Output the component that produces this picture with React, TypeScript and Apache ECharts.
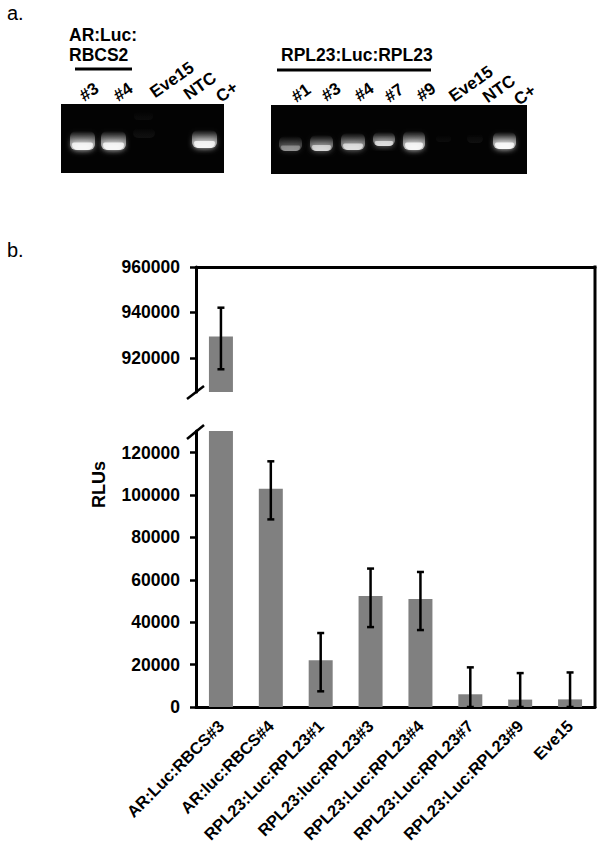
import React, { useEffect, useRef } from "react";
import * as echarts from "echarts";

const categories = ["AR:Luc:RBCS#3","AR:luc:RBCS#4","RPL23:Luc:RPL23#1","RPL23:luc:RPL23#3","RPL23:Luc:RPL23#4","RPL23:Luc:RPL23#7","RPL23:Luc:RPL23#9","Eve15"];
const rluValues = [929400, 103000, 22000, 52400, 50900, 6000, 3500, 3600];
const errorLow = [915000, 88500, 7400, 37700, 36300, 0, 0, 0];
const errorHigh = [942100, 115900, 34900, 65300, 63700, 18700, 16000, 16300];
const upperTicks = [920000, 940000, 960000];
const lowerTicks = [0, 20000, 40000, 60000, 80000, 100000, 120000];

const FONT = "'Liberation Sans', Arial, sans-serif";

function errorItem(params: any, api: any) {
  const x = api.value(0);
  const pLow = api.coord([x, api.value(1)]);
  const pHigh = api.coord([x, api.value(2)]);
  const style = { stroke: "#000", lineWidth: 2.5, fill: "none" };
  return {
    type: "group",
    children: [
      { type: "line", shape: { x1: pLow[0], y1: pLow[1], x2: pHigh[0], y2: pHigh[1] }, style },
      { type: "line", shape: { x1: pHigh[0] - 3.5, y1: pHigh[1], x2: pHigh[0] + 3.5, y2: pHigh[1] }, style },
      { type: "line", shape: { x1: pLow[0] - 3.5, y1: pLow[1], x2: pLow[0] + 3.5, y2: pLow[1] }, style },
    ],
  };
}

function label(text: string, x: number, y: number, rotation = 0, size = 17) {
  return {
    type: "text", x, y, rotation: (rotation * Math.PI) / 180, z: 10,
    style: { text, fill: "#000", font: `bold ${size}px ${FONT}`, align: "center", verticalAlign: "middle" },
  };
}

function rule(x1: number, x2: number, y: number) {
  return { type: "line", z: 10, shape: { x1, y1: y, x2, y2: y }, style: { stroke: "#000", lineWidth: 3 } };
}

function slash(x1: number, y1: number, x2: number, y2: number) {
  return { type: "line", z: 10, shape: { x1, y1, x2, y2 }, style: { stroke: "#000", lineWidth: 2.5 } };
}

// one glowing gel band: soft body fading upward plus a bright lower lobe
function band(x0: number, x1: number, y0: number, y1: number, level: number) {
  const w = x1 - x0;
  const cy = (y0 + y1) / 2;
  const grey = Math.round(255 * Math.min(1, 0.35 + level));
  const rgba = (a: number) => `rgba(${grey},${grey},${grey},${a})`;
  const items: any[] = [
    {
      type: "rect", z: 2,
      shape: { x: x0 + 1, y: y0 - 2, width: w - 2, height: y1 - y0, r: 6 },
      style: {
        fill: {
          type: "linear", x: 0, y: 0, x2: 0, y2: 1,
          colorStops: [
            { offset: 0, color: rgba(0) },
            { offset: 0.5, color: rgba(0.45 * level) },
            { offset: 1, color: rgba(0.75 * level) },
          ],
        },
        shadowBlur: 5, shadowColor: rgba(0.4 * level),
      },
    },
  ];
  if (level > 0.3) {
    items.push({
      type: "rect", z: 3,
      shape: { x: x0 + 3, y: cy, width: w - 6, height: y1 - cy - 2, r: [2, 2, 6, 6] },
      style: { fill: rgba(0.8 * level), shadowBlur: 6, shadowColor: rgba(0.95 * level) },
    });
  }
  return items;
}

const gel = (x: number, y: number, width: number, height: number) => ({
  type: "rect", z: 1, shape: { x, y, width, height }, style: { fill: "#030303" },
});

const graphicElements: any[] = [
  { type: "text", x: 7, y: 13, z: 10, style: { text: "a.", fill: "#000", font: `20px ${FONT}`, align: "left", verticalAlign: "middle" } },
  { type: "text", x: 7, y: 250, z: 10, style: { text: "b.", fill: "#000", font: `20px ${FONT}`, align: "left", verticalAlign: "middle" } },

  { type: "text", x: 69, y: 35, z: 10, style: { text: "AR:Luc:", fill: "#000", font: `bold 17.5px ${FONT}`, align: "left", verticalAlign: "middle" } },
  { type: "text", x: 69, y: 55, z: 10, style: { text: "RBCS2", fill: "#000", font: `bold 17.5px ${FONT}`, align: "left", verticalAlign: "middle" } },
  rule(75, 132, 69),
  label("#3", 89, 92, 35), label("#4", 123, 92, 35), label("Eve15", 172, 80, 35),
  label("NTC", 200, 86, 35), label("C+", 227, 92, 35),
  gel(61, 104, 163, 69),
  ...band(69, 96, 133, 152, 0.95), ...band(100, 127, 133, 152, 0.95), ...band(191, 218, 132, 150, 0.95),
  ...band(133, 154, 114, 122, 0.1), ...band(132, 156, 130, 140, 0.14),

  { type: "text", x: 281, y: 55, z: 10, style: { text: "RPL23:Luc:RPL23", fill: "#000", font: `bold 17.5px ${FONT}`, align: "left", verticalAlign: "middle" } },
  rule(277, 431, 70),
  label("#1", 301, 93, 35), label("#3", 331, 92, 35), label("#4", 364, 92, 35), label("#7", 394, 93, 35),
  label("#9", 426, 92, 35), label("Eve15", 471, 84, 35), label("NTC", 499, 89, 35), label("C+", 525, 95, 35),
  gel(271, 105, 256, 69),
  ...band(278, 303, 138, 153, 0.5), ...band(309, 334, 137, 153, 0.7), ...band(340, 366, 135, 152, 0.75),
  ...band(372, 396, 134, 148, 0.75), ...band(402, 426, 133, 152, 0.95), ...band(492, 517, 134, 151, 1),
  ...band(435, 452, 137, 144, 0.1), ...band(466, 484, 136, 145, 0.14),

  { type: "text", x: 99, y: 484.5, rotation: Math.PI / 2, z: 10, style: { text: "RLUs", fill: "#000", font: `bold 18px ${FONT}`, align: "center", verticalAlign: "middle" } },
  { type: "line", z: 10, shape: { x1: 595, y1: 265.5, x2: 595, y2: 708 }, style: { stroke: "#000", lineWidth: 3 } },
  slash(187, 399, 204, 386),
  slash(187, 439, 204, 425),
];

const yAxisCommon = {
  type: "value",
  splitLine: { show: false },
  axisLine: { show: true, lineStyle: { color: "#000", width: 3 } },
};

const tickStyle = (values: number[]) => ({
  axisTick: { show: true, length: 6, customValues: values, lineStyle: { color: "#000", width: 2.5 } },
  axisLabel: {
    customValues: values, margin: 16, color: "#000", fontFamily: FONT, fontWeight: "bold", fontSize: 17.5,
    formatter: (v: number) => String(v),
  },
});

const xAxisCommon = {
  type: "category",
  data: categories,
  axisLine: { show: true, onZero: false, lineStyle: { color: "#000", width: 3 } },
  axisTick: { show: false },
};

const errorData = categories.map((_, i) => [i, errorLow[i], errorHigh[i]]);

export default function App() {
  const ref = useRef<HTMLDivElement>(null);
  useEffect(() => {
    const chart = echarts.init(ref.current!, undefined, { renderer: "svg" });
    chart.setOption({
      animation: false,
      backgroundColor: "#fff",
      grid: [
        { left: 196, top: 267, width: 399, height: 125 },
        { left: 196, top: 431, width: 399, height: 276 },
      ],
      xAxis: [
        { ...xAxisCommon, gridIndex: 0, position: "top", axisLabel: { show: false } },
        {
          ...xAxisCommon, gridIndex: 1, position: "bottom",
          axisLabel: { interval: 0, rotate: 45, margin: 16, padding: [8, 0, 0, 0], color: "#000", fontFamily: FONT, fontWeight: "bold", fontSize: 16.5 },
        },
      ],
      yAxis: [
        { ...yAxisCommon, ...tickStyle(upperTicks), gridIndex: 0, min: 905000, max: 960000 },
        { ...yAxisCommon, ...tickStyle(lowerTicks), gridIndex: 1, min: 0, max: 130200 },
      ],
      series: [
        { type: "bar", xAxisIndex: 0, yAxisIndex: 0, barWidth: 24, data: rluValues.map((v) => (v > 905000 ? v : null)), itemStyle: { color: "#808080" } },
        { type: "bar", xAxisIndex: 1, yAxisIndex: 1, barWidth: 24, data: rluValues, itemStyle: { color: "#808080" } },
        { type: "custom", xAxisIndex: 0, yAxisIndex: 0, renderItem: errorItem, data: errorData.filter((d) => d[1] > 905000), encode: { x: 0, y: [1, 2] }, z: 5 },
        { type: "custom", xAxisIndex: 1, yAxisIndex: 1, renderItem: errorItem, data: errorData.filter((d) => d[2] < 130200), encode: { x: 0, y: [1, 2] }, z: 5 },
      ],
      graphic: { elements: graphicElements },
    });
    return () => chart.dispose();
  }, []);
  return <div ref={ref} style={{ position: "absolute", left: 0, top: 0, width: 604, height: 849 }} />;
}
